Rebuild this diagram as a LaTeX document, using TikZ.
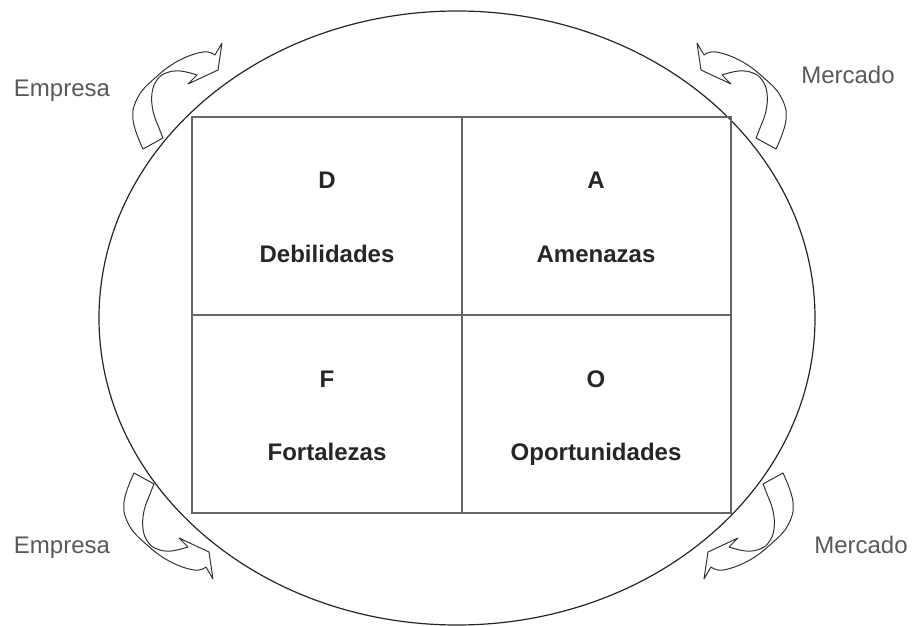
\documentclass[tikz,border=0pt]{standalone}
\usepackage{fontspec}
\setmainfont{Liberation Sans}
\begin{document}
\begin{tikzpicture}[x=1pt,y=-1pt,
  cell/.style={font=\fontsize{24}{28}\selectfont\bfseries, text=black!85, anchor=base},
  side/.style={font=\fontsize{24}{28}\selectfont, text=black!65, anchor=base},
  frame/.style={draw=black!60, line width=1.1pt},
  curlarrow/.style={draw=black!80, line width=1pt, fill=white, line join=round}]
\useasboundingbox (0,0) rectangle (913,626);
% ellipse
\coordinate (c) at (457,318);
\draw[black!85, line width=1.2pt] (c) ellipse [x radius=358, y radius=307];
% grid
\coordinate (tl) at (192,117);
\coordinate (br) at (731,513);
\coordinate (mt) at (462,117);
\coordinate (mb) at (462,513);
\coordinate (ml) at (192,315);
\coordinate (mr) at (731,315);
\draw[frame] (tl) rectangle (br);
\draw[frame] (mt) -- (mb);
\draw[frame] (ml) -- (mr);
% cell texts
\node[cell] (d) at (327,188) {D};
\node[cell] (deb) at (327,262) {Debilidades};
\node[cell] (a) at (596,188) {A};
\node[cell] (ame) at (596,262) {Amenazas};
\node[cell] (f) at (327,387) {F};
\node[cell] (fort) at (327,460) {Fortalezas};
\node[cell] (o) at (596,387) {O};
\node[cell] (opo) at (596,460) {Oportunidades};
% side labels
\node[side] (e1) at (62,96) {Empresa};
\node[side] (m1) at (848,84) {Mercado};
\node[side] (e2) at (62,553) {Empresa};
\node[side] (m2) at (861,553) {Mercado};
% curved arrows
\newcommand{\curlpath}{%
  \draw[curlarrow] plot[smooth, tension=0.7] coordinates {(143,149) (133,120) (138,97) (155,78) (178,61) (203,52) (215,55)}
    -- (222,43) -- (218,70) -- (188,84) -- (197,75)
    -- plot[smooth, tension=0.7] coordinates {(197,75) (180,71) (166,73) (157,80) (152,93) (153,111) (159,128) (163,138)}
    -- cycle;}
\begin{scope}
  \curlpath
\end{scope}
\begin{scope}[shift={(919,0)}, xscale=-1]
  \curlpath
\end{scope}
\begin{scope}[shift={(-9,622)}, yscale=-1]
  \curlpath
\end{scope}
\begin{scope}[shift={(926,622)}, xscale=-1, yscale=-1]
  \curlpath
\end{scope}
\end{tikzpicture}
\end{document}
